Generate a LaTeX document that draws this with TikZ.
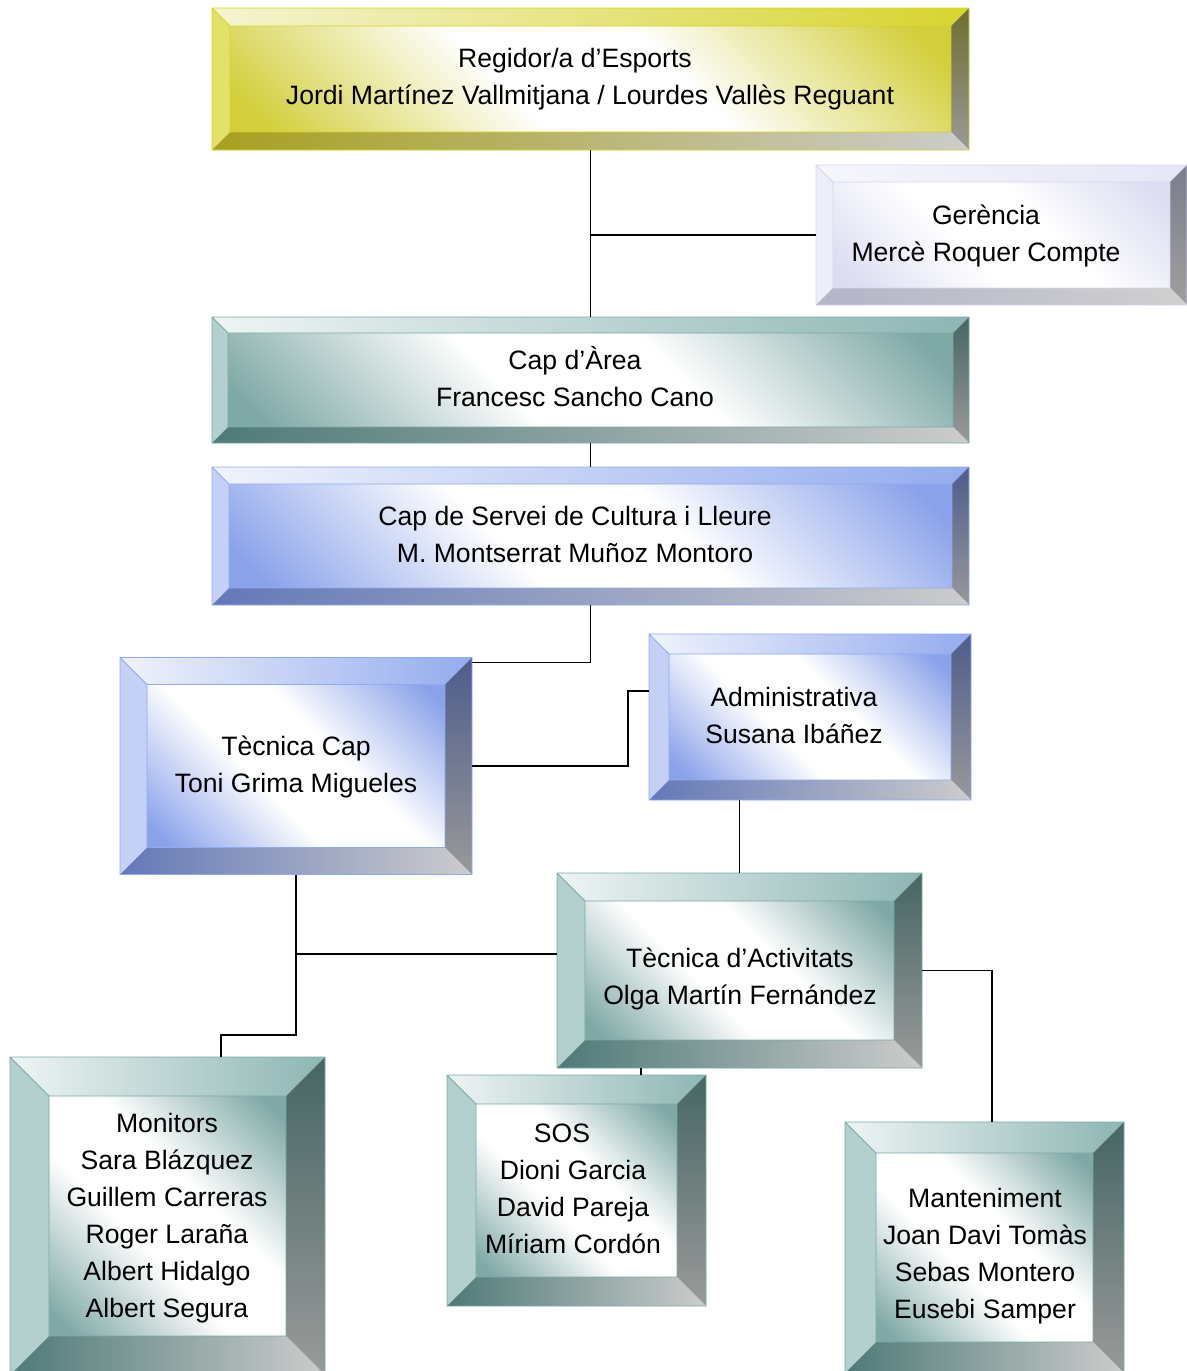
\documentclass[tikz,border=0pt]{standalone}
\usepackage{fontspec}
\setmainfont{Liberation Sans}
\usetikzlibrary{positioning, backgrounds}

\definecolor{ylwFace}{HTML}{D2CE3C}
\definecolor{ylwTopL}{HTML}{F4F4D2}
\definecolor{ylwTopR}{HTML}{D8D430}
\definecolor{ylwLeft}{HTML}{E4E06C}
\definecolor{ylwBotL}{HTML}{A8A020}
\definecolor{ylwBotR}{HTML}{CCCCCC}
\definecolor{ylwRgtT}{HTML}{6E6E30}
\definecolor{ylwRgtB}{HTML}{999999}
\definecolor{ylwLine}{HTML}{D6D420}

\definecolor{tealFace}{HTML}{7FA9A6}
\definecolor{tealTopL}{HTML}{EEF4F4}
\definecolor{tealTopR}{HTML}{8DB6B3}
\definecolor{tealLeft}{HTML}{B4D0CE}
\definecolor{tealBotL}{HTML}{4E7A77}
\definecolor{tealBotR}{HTML}{CCCCCC}
\definecolor{tealRgtT}{HTML}{466664}
\definecolor{tealRgtB}{HTML}{9A9A9A}
\definecolor{tealLine}{HTML}{7AA9A6}

\definecolor{bluFace}{HTML}{8AA2EA}
\definecolor{bluTopL}{HTML}{F0F3FC}
\definecolor{bluTopR}{HTML}{94ABEE}
\definecolor{bluLeft}{HTML}{C5D0F6}
\definecolor{bluBotL}{HTML}{6478B8}
\definecolor{bluBotR}{HTML}{CCCCCC}
\definecolor{bluRgtT}{HTML}{4E5C8C}
\definecolor{bluRgtB}{HTML}{999999}
\definecolor{bluLine}{HTML}{8EAAF2}

\definecolor{lavFace}{HTML}{DCDCF2}
\definecolor{lavTopL}{HTML}{F6F6FC}
\definecolor{lavTopR}{HTML}{E6E6F6}
\definecolor{lavLeft}{HTML}{EEEEF8}
\definecolor{lavBotL}{HTML}{B4B4C8}
\definecolor{lavBotR}{HTML}{D0D0D0}
\definecolor{lavRgtT}{HTML}{7C7C8C}
\definecolor{lavRgtB}{HTML}{A0A0A0}
\definecolor{lavLine}{HTML}{D6D6EE}

\pgfdeclarehorizontalshading{ylwShade}{100bp}{color(0bp)=(ylwFace); color(18bp)=(ylwFace); color(42bp)=(white); color(58bp)=(white); color(82bp)=(ylwFace); color(100bp)=(ylwFace)}
\pgfdeclarehorizontalshading{tealShade}{100bp}{color(0bp)=(tealFace); color(18bp)=(tealFace); color(42bp)=(white); color(58bp)=(white); color(82bp)=(tealFace); color(100bp)=(tealFace)}
\pgfdeclarehorizontalshading{bluShade}{100bp}{color(0bp)=(bluFace); color(18bp)=(bluFace); color(42bp)=(white); color(58bp)=(white); color(82bp)=(bluFace); color(100bp)=(bluFace)}
\pgfdeclarehorizontalshading{lavShade}{100bp}{color(0bp)=(lavFace); color(18bp)=(lavFace); color(42bp)=(white); color(58bp)=(white); color(82bp)=(lavFace); color(100bp)=(lavFace)}

% bevelled frame behind a node: node, bevel width, colour set
\newcommand{\bevel}[3]{%
  \begin{scope}[on background layer]
    \shade[shading=#3Shade, shading angle=45] ([shift={(#2,-#2)}]#1.north west) rectangle ([shift={(-#2,#2)}]#1.south east);
    \path[left color=#3TopL, right color=#3TopR] (#1.north west) -- (#1.north east) -- ([shift={(-#2,-#2)}]#1.north east) -- ([shift={(#2,-#2)}]#1.north west) -- cycle;
    \fill[#3Left] (#1.north west) -- ([shift={(#2,-#2)}]#1.north west) -- ([shift={(#2,#2)}]#1.south west) -- (#1.south west) -- cycle;
    \path[top color=#3RgtT, bottom color=#3RgtB] (#1.north east) -- (#1.south east) -- ([shift={(-#2,#2)}]#1.south east) -- ([shift={(-#2,-#2)}]#1.north east) -- cycle;
    \path[left color=#3BotL, right color=#3BotR] (#1.south west) -- (#1.south east) -- ([shift={(-#2,#2)}]#1.south east) -- ([shift={(#2,#2)}]#1.south west) -- cycle;
    \draw[#3Line, line width=0.8pt] (#1.north west) rectangle (#1.south east)
      ([shift={(#2,-#2)}]#1.north west) rectangle ([shift={(-#2,#2)}]#1.south east)
      (#1.north west) -- ([shift={(#2,-#2)}]#1.north west);
  \end{scope}}

\begin{document}
\begin{tikzpicture}[
    x=0.03cm, y=-0.03cm,
    box/.style={rectangle, inner sep=0pt, outer sep=0pt},
    sz/.style 2 args={minimum width=#1*0.03cm, minimum height=#2*0.03cm},
    txt/.style={inner sep=0pt, align=center, font=\fontsize{22.7}{31.6}\selectfont},
    link/.style={draw=black, line width=1.3pt}
  ]
  \useasboundingbox (0,0) rectangle (1187,1371);

  \node[box, sz={757}{142}] (regidor) at (590.5,79) {};
  \node[box, sz={371}{140}] (gerencia) at (1001.5,235) {};
  \node[box, sz={757}{126}] (caparea) at (590.5,380) {};
  \node[box, sz={757}{138}] (capservei) at (590.5,536) {};
  \node[box, sz={352}{217}] (tecnicacap) at (296,766) {};
  \node[box, sz={322}{166}] (admin) at (810,717) {};
  \node[box, sz={365}{195}] (activitats) at (739.5,970.5) {};
  \node[box, sz={315}{318}] (monitors) at (167.5,1216) {};
  \node[box, sz={259}{231}] (sos) at (576.5,1190.5) {};
  \node[box, sz={279}{251}] (manteniment) at (984.5,1247.5) {};

  \bevel{regidor}{0.54cm}{ylw}
  \bevel{gerencia}{0.51cm}{lav}
  \bevel{caparea}{0.48cm}{teal}
  \bevel{capservei}{0.51cm}{blu}
  \bevel{tecnicacap}{0.81cm}{blu}
  \bevel{admin}{0.6cm}{blu}
  \bevel{activitats}{0.84cm}{teal}
  \bevel{monitors}{1.17cm}{teal}
  \bevel{sos}{0.87cm}{teal}
  \bevel{manteniment}{0.93cm}{teal}

  \node[txt] (regidor-t) at (590,79) {Regidor/a d’Esports\rule{0.9cm}{0pt}\\Jordi Martínez Vallmitjana / Lourdes Vallès Reguant};
  \node[txt] (gerencia-t) at (986,236) {Gerència\\Mercè Roquer Compte};
  \node[txt] (caparea-t) at (575,376.5) {Cap d’Àrea\\Francesc Sancho Cano};
  \node[txt] (capservei-t) at (575,534) {Cap de Servei de Cultura i Lleure\\M. Montserrat Muñoz Montoro};
  \node[txt] (tecnicacap-t) at (296,766.5) {Tècnica Cap\\Toni Grima Migueles};
  \node[txt] (admin-t) at (794,715.5) {Administrativa\\Susana Ibáñez};
  \node[txt] (activitats-t) at (740,978.5) {Tècnica d’Activitats\\Olga Martín Fernández};
  \node[txt] (monitors-t) at (167,1218) {Monitors\\Sara Blázquez\\Guillem Carreras\\Roger Laraña\\Albert Hidalgo\\Albert Segura};
  \node[txt] (sos-t) at (573,1188.5) {SOS\rule{0.66cm}{0pt}\\Dioni Garcia\\David Pareja\\Míriam Cordón};
  \node[txt] (manteniment-t) at (985,1256) {Manteniment\\Joan Davi Tomàs\\Sebas Montero\\Eusebi Samper};

  \coordinate (elbow) at (628,0);
  \coordinate (admin-in) at ([yshift=0.78cm]admin.west);
  \coordinate (mon-in) at ([xshift=1.605cm]monitors.north);
  \coordinate (sos-in) at ([xshift=1.935cm]sos.north);
  \coordinate (mant-in) at ([xshift=0.225cm]manteniment.north);

  \draw[link] (regidor.south) -- (caparea.north);
  \draw[link] (gerencia.west) -- (gerencia.west -| regidor.south);
  \draw[link] (caparea.south) -- (capservei.north);
  \draw[link] (capservei.south) |- ([yshift=-0.15cm]tecnicacap.north east);
  \draw[link] (tecnicacap.east) -| (elbow |- admin-in) -- (admin-in);
  \draw[link] (activitats.north) -- (activitats.north |- admin.south);
  \draw[link] (tecnicacap.south) |- ([yshift=0.66cm]mon-in) -- (mon-in);
  \draw[link] ([yshift=0.5cm]activitats.west) -- ([yshift=0.5cm]activitats.west -| tecnicacap.south);
  \draw[link] (sos-in) -- (sos-in |- activitats.south);
  \draw[link] (activitats.east) -| (mant-in);
\end{tikzpicture}
\end{document}
